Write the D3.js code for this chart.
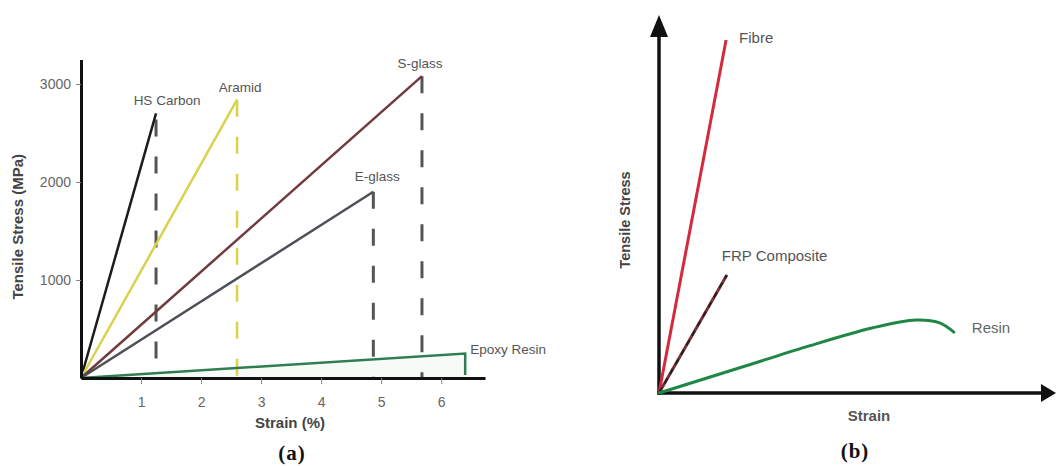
<!DOCTYPE html>
<html>
<head>
<meta charset="utf-8">
<script src="https://cdn.jsdelivr.net/npm/d3@7"></script>
<style>
  html, body { margin: 0; padding: 0; background: #fff; }
  svg { display: block; font-family: "Liberation Sans", Arial, sans-serif; }
</style>
</head>
<body>
<svg id="chart" width="1056" height="466"></svg>
<script>
// ---------- Data: panel (a) ----------
const materials = ["HS Carbon", "Aramid", "S-glass", "E-glass", "Epoxy Resin"];
const failureStrain = [1.25, 2.6, 5.68, 4.87, 6.4];      // %
const failureStress = [2700, 2840, 3080, 1900, 250];     // MPa
const lineColors = ["#1c1c1c", "#d8d24c", "#703a3e", "#4d5157", "#2f7d50"];
const dashColors = ["#555555", "#d8d24c", "#555555", "#555555", null];
const xTicksA = [1, 2, 3, 4, 5, 6];
const yTicksA = [1000, 2000, 3000];

// ---------- Data: panel (b) (relative units) ----------
const fibreCurve = [[0, 0], [0.172, 0.934]];
const frpCurve = [[0, 0], [0.174, 0.312]];
const resinStrain = [0, 0.205, 0.377, 0.546, 0.659, 0.718, 0.756];
const resinStress = [0, 0.066, 0.122, 0.172, 0.193, 0.186, 0.161];

const svg = d3.select("#chart");
const SANS = "Liberation Sans, Arial, sans-serif";
const SERIF = "Liberation Serif, 'Times New Roman', serif";

// ================= Panel (a) =================
const xA = d3.scaleLinear().domain([0, 6.73]).range([81, 485]);
const yA = d3.scaleLinear().domain([0, 3250]).range([378, 59.5]);

// light fill under epoxy
svg.append("path")
  .attr("d", d3.line().x(d => xA(d[0])).y(d => yA(d[1]))([[0, 0], [failureStrain[4], failureStress[4]], [failureStrain[4], 0]]))
  .attr("fill", "#e6f4ea").attr("opacity", 0.35);

// dashed drop lines
materials.forEach((m, i) => {
  if (!dashColors[i]) return;
  svg.append("line")
    .attr("x1", xA(failureStrain[i])).attr("x2", xA(failureStrain[i]))
    .attr("y1", yA(failureStress[i])).attr("y2", yA(0))
    .attr("stroke", dashColors[i])
    .attr("stroke-width", i === 1 ? 2.5 : 3)
    .attr("stroke-dasharray", "17,20")
    .attr("stroke-dashoffset", i === 0 ? -6 : 0);
});

// material lines
const lineA = d3.line().x(d => xA(d[0])).y(d => yA(d[1]));
materials.forEach((m, i) => {
  const pts = [[0, 0], [failureStrain[i], failureStress[i]]];
  if (i === 4) pts.push([failureStrain[i], 30]);
  svg.append("path")
    .attr("d", lineA(pts))
    .attr("fill", "none")
    .attr("stroke", lineColors[i])
    .attr("stroke-width", 2.5)
    .attr("stroke-linejoin", "miter");
});

// labels
const labelPos = [
  { dx: 11, dy: -8, anchor: "middle" },
  { dx: 3, dy: -8, anchor: "middle" },
  { dx: -2, dy: -8, anchor: "middle" },
  { dx: 4, dy: -11, anchor: "middle" },
  { dx: 5, dy: 0, anchor: "start" }
];
materials.forEach((m, i) => {
  svg.append("text")
    .attr("x", xA(failureStrain[i]) + labelPos[i].dx)
    .attr("y", yA(failureStress[i]) + labelPos[i].dy)
    .attr("text-anchor", labelPos[i].anchor)
    .style("font-family", SANS)
    .attr("font-size", 13.5)
    .attr("fill", "#555")
    .text(m);
});

// axes (a)
const gyA = svg.append("g").attr("transform", `translate(${xA(0)},0)`)
  .call(d3.axisLeft(yA).tickValues(yTicksA).tickFormat(d3.format("d"))
    .tickSize(5).tickSizeOuter(0).tickPadding(5));
gyA.select(".domain").attr("stroke", "#111").attr("stroke-width", 3);
gyA.selectAll(".tick line").attr("stroke", "#888");
gyA.selectAll(".tick text").attr("font-size", 14).attr("fill", "#666").style("font-family", SANS);

const gxA = svg.append("g").attr("transform", `translate(0,${yA(0)})`)
  .call(d3.axisBottom(xA).tickValues(xTicksA).tickFormat(d3.format("d"))
    .tickSize(6).tickSizeOuter(0).tickPadding(13));
gxA.select(".domain").attr("stroke", "#111").attr("stroke-width", 3);
gxA.selectAll(".tick line").attr("stroke", "#888");
gxA.selectAll(".tick text").attr("font-size", 14).attr("fill", "#666").style("font-family", SANS);

svg.append("text")
  .attr("transform", `translate(23,${(yA(0) + yA(3250)) / 2 + 8}) rotate(-90)`)
  .attr("text-anchor", "middle")
  .style("font-family", SANS)
  .attr("font-size", 15).attr("font-weight", "bold").attr("fill", "#444")
  .text("Tensile Stress (MPa)");

svg.append("text")
  .attr("x", 290).attr("y", 428)
  .attr("text-anchor", "middle")
  .style("font-family", SANS)
  .attr("font-size", 15).attr("font-weight", "bold").attr("fill", "#444")
  .text("Strain (%)");

svg.append("text")
  .attr("x", 292).attr("y", 460)
  .attr("text-anchor", "middle")
  .style("font-family", SERIF)
  .attr("font-size", 21).attr("font-weight", "bold").attr("fill", "#111")
  .attr("letter-spacing", 1)
  .text("(a)");

// ================= Panel (b) =================
const xB = d3.scaleLinear().domain([0, 1]).range([659, 1049]);
const yB = d3.scaleLinear().domain([0, 1]).range([393, 15]);
const lineB = d3.line().x(d => xB(d[0])).y(d => yB(d[1]));

// axes with arrows
const arrowY = yB(1), arrowX = 1056;
svg.append("line")
  .attr("x1", xB(0)).attr("x2", xB(0)).attr("y1", yB(0) + 1.75).attr("y2", arrowY + 20)
  .attr("stroke", "#111").attr("stroke-width", 3.5);
svg.append("line")
  .attr("x1", xB(0) - 1.75).attr("x2", arrowX - 12).attr("y1", yB(0)).attr("y2", yB(0))
  .attr("stroke", "#111").attr("stroke-width", 3.5);
svg.append("path")
  .attr("d", `M${xB(0)},${arrowY}L${xB(0) - 9},${arrowY + 22}L${xB(0) + 9},${arrowY + 22}Z`)
  .attr("fill", "#111");
svg.append("path")
  .attr("d", `M${arrowX},${yB(0)}L${arrowX - 15},${yB(0) - 9}L${arrowX - 15},${yB(0) + 9}Z`)
  .attr("fill", "#111");

// curves
svg.append("path").attr("d", lineB(fibreCurve))
  .attr("fill", "none").attr("stroke", "#d42a3e").attr("stroke-width", 3);
svg.append("path").attr("d", lineB(frpCurve))
  .attr("fill", "none").attr("stroke", "#7a2e3a").attr("stroke-width", 3);
svg.append("path").attr("d", lineB(frpCurve))
  .attr("fill", "none").attr("stroke", "#222").attr("stroke-width", 2)
  .attr("stroke-dasharray", "6,5");
const resinPts = resinStrain.map((s, i) => [s, resinStress[i]]);
svg.append("path")
  .attr("d", d3.line().x(d => xB(d[0])).y(d => yB(d[1])).curve(d3.curveCatmullRom.alpha(0.5))(resinPts))
  .attr("fill", "none").attr("stroke", "#1f8745").attr("stroke-width", 3)
  .attr("stroke-linecap", "round");

// labels (b)
svg.append("text").attr("x", xB(fibreCurve[1][0]) + 13).attr("y", yB(fibreCurve[1][1]) + 3)
  .style("font-family", SANS)
  .attr("font-size", 15).attr("fill", "#555").text("Fibre");
svg.append("text").attr("x", xB(frpCurve[1][0]) - 5).attr("y", yB(frpCurve[1][1]) - 14)
  .style("font-family", SANS)
  .attr("font-size", 15).attr("fill", "#555").text("FRP Composite");
svg.append("text").attr("x", xB(resinStrain[6]) + 18).attr("y", yB(resinStress[6]) + 1)
  .style("font-family", SANS)
  .attr("font-size", 15).attr("fill", "#666").text("Resin");

svg.append("text")
  .attr("transform", `translate(630,220) rotate(-90)`)
  .attr("text-anchor", "middle")
  .style("font-family", SANS)
  .attr("font-size", 14.5).attr("font-weight", "bold").attr("fill", "#444")
  .text("Tensile Stress");

svg.append("text")
  .attr("x", 869).attr("y", 421)
  .attr("text-anchor", "middle")
  .style("font-family", SANS)
  .attr("font-size", 15).attr("font-weight", "bold").attr("fill", "#555")
  .text("Strain");

svg.append("text")
  .attr("x", 855).attr("y", 458)
  .attr("text-anchor", "middle")
  .style("font-family", SERIF)
  .attr("font-size", 21).attr("font-weight", "bold").attr("fill", "#111")
  .attr("letter-spacing", 1)
  .text("(b)");
</script>
</body>
</html>
